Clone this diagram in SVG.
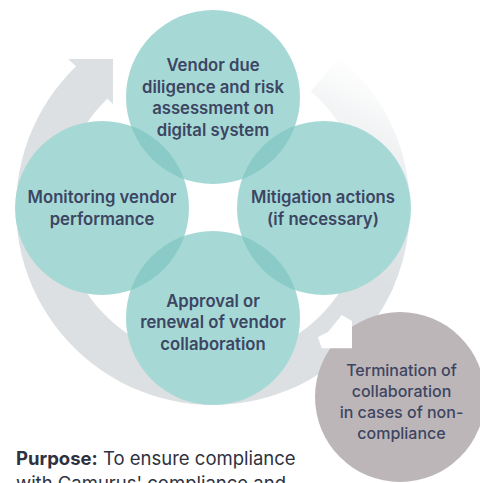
<svg xmlns="http://www.w3.org/2000/svg" width="480" height="483" viewBox="0 0 480 483">
<style>
.c{fill:#a6d9d6}
.lens{fill:#8acbc8}
.ring{fill:#dce0e2}
.t{font-family:Inter,"Noto Sans","Liberation Sans",sans-serif;font-size:16.7px;font-weight:600;fill:#3c4562;text-anchor:middle}
.tm{font-size:16px;font-weight:500}
.p{font-family:Inter,"Noto Sans","Liberation Sans",sans-serif;font-size:18.5px;fill:#2e3240}
</style>
<defs>
<linearGradient id="ringGrad" gradientUnits="userSpaceOnUse" x1="340" y1="55" x2="258.7" y2="229.3">
<stop offset="0" stop-color="#dce0e2" stop-opacity="0"/>
<stop offset="0.5" stop-color="#dce0e2" stop-opacity="0.65"/>
<stop offset="1" stop-color="#dce0e2" stop-opacity="1"/>
</linearGradient>
<clipPath id="clipTop"><circle cx="213" cy="97" r="87"/></clipPath>
<clipPath id="clipBottom"><circle cx="213" cy="318" r="87"/></clipPath>
</defs>
<rect width="480" height="483" fill="#ffffff"/>
<g id="connectors">
<path id="cycle-arrow-fade" d="M 339.6 57.1 A 197 197 0 0 1 391.5 291.3 L 350.8 272.2 A 152 152 0 0 0 310.7 91.6 Z" fill="url(#ringGrad)"/>
<path id="cycle-arrow" class="ring" d="M 394.3 285.0 A 197 197 0 1 1 76.1 66.3 L 68 59 L 113 59 L 113 104 L 107.4 98.7 A 152 152 0 1 0 352.9 267.4 Z"/>
</g>
<g id="node-vendor-due-diligence">
<circle class="c" cx="213" cy="97" r="87"/>
</g>
<g id="node-monitoring">
<circle class="c" cx="102" cy="208" r="87"/>
</g>
<g id="node-mitigation">
<circle class="c" cx="324" cy="208" r="87"/>
</g>
<g id="node-approval">
<circle class="c" cx="213" cy="318" r="87"/>
</g>
<g id="overlaps">
<circle class="lens" cx="102" cy="208" r="87" clip-path="url(#clipTop)"/>
<circle class="lens" cx="324" cy="208" r="87" clip-path="url(#clipTop)"/>
<circle class="lens" cx="102" cy="208" r="87" clip-path="url(#clipBottom)"/>
<circle class="lens" cx="324" cy="208" r="87" clip-path="url(#clipBottom)"/>
</g>
<g id="node-termination">
<circle cx="400" cy="397" r="85" fill="#bcb6b8"/>
<text class="t tm" x="401.5" y="376">Termination of</text>
<text class="t tm" x="401.5" y="397">collaboration</text>
<text class="t tm" x="401.5" y="418">in cases of non-</text>
<text class="t tm" x="401.5" y="439">compliance</text>
</g>
<g id="exit-arrow">
<polygon points="341.7,315 352,321 352,348.3 321.7,348.3 318,337 328,332" fill="#ffffff"/>
</g>
<g id="labels">
<text class="t" x="213" y="71">Vendor due</text>
<text class="t" x="213" y="92.5">diligence and risk</text>
<text class="t" x="213" y="114">assessment on</text>
<text class="t" x="213" y="135.5">digital system</text>
<text class="t" x="102" y="203">Monitoring vendor</text>
<text class="t" x="102" y="224.5">performance</text>
<text class="t" x="323" y="203">Mitigation actions</text>
<text class="t" x="323" y="224.5">(if necessary)</text>
<text class="t" x="213" y="306.5">Approval or</text>
<text class="t" x="213" y="328">renewal of vendor</text>
<text class="t" x="213" y="349.5">collaboration</text>
</g>
<g id="purpose">
<text class="p" x="16" y="465"><tspan font-weight="700">Purpose:</tspan> To ensure compliance</text>
<text class="p" x="16" y="490">with Camurus' compliance and</text>
</g>
</svg>
